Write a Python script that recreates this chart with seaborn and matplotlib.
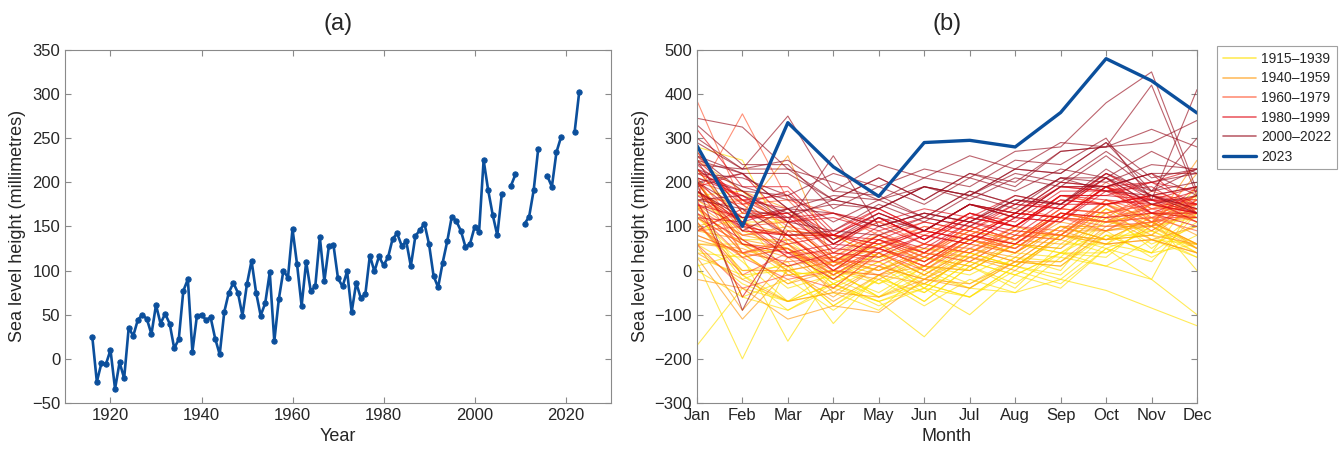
import numpy as np
import pandas as pd
import matplotlib
matplotlib.use('Agg')
import matplotlib.pyplot as plt
import seaborn as sns
from matplotlib.lines import Line2D

# (a) annual mean sea level, 1916-2023 (nan = no data)
annual_years = list(range(1916, 2024))
annual_mm = [25, -26, -5, -6, 10, -34, -4, -22, 35, 26,
             44, 50, 45, 28, 61, 40, 51, 40, 12, 22,
             77, 90, 8, 49, 50, 44, 47, 23, 5, 53,
             75, 86, 75, 49, 85, 111, 75, 49, 63, 98,
             20, 68, 100, 92, 147, 107, 60, 110, 77, 82,
             138, 88, 128, 129, 91, 82, 99, 53, 86, 69,
             73, 117, 99, 116, 106, 115, 136, 142, 128, 133,
             105, 139, 146, 153, 130, 94, 81, 109, 133, 161,
             156, 145, 127, 130, 149, 144, 225, 191, 163, 140,
             187, np.nan, 196, 209, np.nan, 153, 161, 191, 238, np.nan,
             207, 195, 234, 251, np.nan, np.nan, 257, 302]

# (b) monthly values per year, grouped by period
months = ['Jan', 'Feb', 'Mar', 'Apr', 'May', 'Jun', 'Jul', 'Aug', 'Sep', 'Oct', 'Nov', 'Dec']

years_1915_1939 = list(range(1916, 1940))
monthly_1915_1939 = [
    [80, 40, -40, -10, -50, 10, -30, 30, 20, 80, 40, 110],
    [-170, -40, -70, -30, -80, -40, -60, 0, -30, 50, 20, 130],
    [20, -200, 10, -80, -20, -50, 20, -10, 40, 30, 110, 60],
    [40, 30, -160, 0, -60, -30, -60, 10, -10, 80, 40, 60],
    [110, -20, 20, -120, -10, -70, 10, -30, 40, 40, 100, 40],
    [150, -10, -70, -30, -70, -150, -40, -50, -20, -45, -85, -125],
    [150, -60, -20, -90, -20, -80, -20, -50, 30, 10, 70, 30],
    [0, -60, -90, -30, -70, -40, -100, -10, -40, 50, -20, 170],
    [280, 250, 60, -40, 10, -50, 20, -10, 40, 10, -20, -100],
    [60, 60, -10, 0, -60, -10, -40, 30, 0, 120, 60, 100],
    [120, 30, 50, -30, 20, -40, 40, 10, 80, 60, 110, 50],
    [200, 60, 50, -30, 20, -30, 30, 10, 70, 40, 100, 60],
    [90, 120, -10, 0, -10, 30, 10, 60, 40, 90, 30, 80],
    [30, -10, 0, -20, -60, 10, -10, 40, 30, 130, 50, 130],
    [180, 70, 70, -10, 40, -10, 60, 40, 100, 70, 120, 0],
    [10, 40, -30, 20, -30, 10, 0, 60, 50, 140, 100, 120],
    [160, 90, 50, -10, 40, -40, 40, 10, 80, 50, 90, 40],
    [100, 20, -70, 0, -30, 30, 0, 60, 40, 110, 90, 140],
    [50, -30, -70, -50, -90, 0, -40, 20, 10, 80, 80, 190],
    [60, 0, 10, -80, -10, -70, 10, -40, 60, 60, 130, 120],
    [230, 110, 110, 20, 60, 0, 70, 40, 100, 70, 80, 30],
    [170, 180, 90, 80, 30, 50, 40, 100, 70, 140, 70, 60],
    [130, -10, -90, -40, -70, -30, -60, 10, -20, 60, 40, 180],
    [150, 40, 50, -20, 30, -20, 40, 10, 80, 70, 90, 50],
]

years_1940_1959 = list(range(1940, 1960))
monthly_1940_1959 = [
    [120, 60, 0, 20, -10, 10, 0, 60, 50, 120, 70, 100],
    [60, -90, 30, -40, 40, -10, 50, 30, 100, 100, 150, 110],
    [200, 70, 50, -50, 10, -20, 30, 10, 80, 60, 70, 40],
    [30, -110, 0, -70, -10, -30, 30, 0, 80, 70, 120, 170],
    [-20, -40, -110, -80, -95, -20, -30, 20, 10, 90, 100, 250],
    [150, 80, 60, -20, 40, -10, 50, 20, 90, 60, 70, 40],
    [230, 100, 80, 10, 60, 0, 70, 40, 100, 70, 80, 60],
    [100, 130, 260, 20, 50, 10, 70, 50, 110, 90, 110, 60],
    [180, 110, 80, 0, 50, 10, 70, 40, 100, 90, 110, 60],
    [70, 40, -30, 0, -20, 30, 10, 70, 60, 130, 80, 150],
    [210, 40, 60, 10, 60, 20, 80, 50, 120, 110, 130, 130],
    [250, 180, 140, 40, 80, 30, 90, 70, 130, 110, 130, 80],
    [140, 60, 30, 30, 0, 50, 30, 90, 80, 160, 110, 120],
    [110, 0, 0, -60, 10, -20, 50, 20, 90, 90, 150, 140],
    [90, 70, 0, 20, 0, 40, 20, 80, 70, 140, 100, 130],
    [270, 130, 110, 20, 70, 20, 80, 60, 130, 110, 100, 50],
    [40, -20, -70, -50, -60, -20, -40, 20, 20, 100, 100, 220],
    [60, 50, 10, 30, 0, 40, 30, 80, 80, 150, 110, 170],
    [200, 80, 100, 30, 80, 40, 90, 70, 130, 110, 150, 120],
    [160, 160, 80, 80, 30, 60, 40, 90, 80, 150, 120, 50],
]

years_1960_1979 = list(range(1960, 1980))
monthly_1960_1979 = [
    [170, 355, 160, 130, 80, 110, 90, 140, 120, 190, 110, 190],
    [230, 100, 110, 30, 90, 40, 100, 70, 130, 120, 140, 110],
    [100, 30, -20, 0, -10, 40, 20, 80, 70, 150, 100, 160],
    [385, 150, 80, 10, 70, 20, 80, 60, 120, 100, 110, 130],
    [150, 40, 60, -10, 50, 10, 80, 50, 120, 90, 140, 140],
    [90, 100, 30, 20, 20, 60, 50, 100, 80, 160, 110, 140],
    [260, 150, 160, 60, 110, 80, 130, 100, 170, 150, 170, 120],
    [120, 60, 50, 0, 70, 30, 100, 70, 140, 130, 150, 130],
    [200, 170, 100, 80, 60, 100, 80, 130, 120, 190, 140, 170],
    [180, 120, 130, 70, 110, 60, 120, 100, 170, 150, 170, 160],
    [160, 110, 40, 40, 20, 60, 40, 100, 90, 160, 130, 150],
    [110, -10, 40, 10, 70, 30, 90, 60, 130, 120, 180, 150],
    [140, 80, 90, 20, 80, 40, 100, 70, 140, 130, 150, 150],
    [60, -40, -10, -40, 40, 0, 60, 40, 120, 110, 170, 130],
    [210, 90, 80, 0, 50, 10, 70, 50, 120, 110, 120, 120],
    [80, 40, 20, 30, 10, 60, 40, 90, 80, 150, 90, 160],
    [130, 30, 50, -10, 50, 10, 80, 60, 130, 110, 120, 90],
    [170, 150, 70, 80, 50, 90, 70, 130, 120, 200, 140, 150],
    [190, 40, 70, 20, 80, 40, 100, 70, 140, 130, 160, 140],
    [140, 160, 80, 80, 50, 100, 80, 130, 120, 190, 120, 150],
]

years_1980_1999 = list(range(1980, 2000))
monthly_1980_1999 = [
    [180, 90, 80, 0, 70, 40, 110, 80, 150, 150, 170, 140],
    [150, 100, 80, 80, 60, 90, 70, 130, 120, 190, 130, 130],
    [230, 160, 140, 60, 120, 70, 120, 100, 160, 150, 170, 150],
    [210, 170, 110, 120, 90, 120, 100, 150, 140, 210, 150, 130],
    [160, -60, 90, 80, 130, 90, 150, 120, 190, 180, 200, 230],
    [200, 120, 120, 50, 120, 70, 130, 110, 180, 180, 190, 130],
    [120, 110, 30, 50, 40, 80, 60, 120, 110, 190, 160, 190],
    [250, 160, 170, 70, 120, 70, 130, 100, 160, 150, 160, 130],
    [190, 220, 110, 130, 100, 130, 110, 160, 140, 210, 130, 120],
    [230, 150, 180, 80, 140, 90, 150, 130, 200, 190, 200, 150],
    [270, 130, 130, 40, 100, 60, 120, 100, 170, 160, 150, 130],
    [130, 70, 10, 40, 30, 80, 60, 120, 110, 180, 130, 170],
    [200, 60, 40, -20, 50, 20, 80, 60, 130, 120, 130, 100],
    [90, 140, 40, 60, 50, 90, 70, 130, 120, 190, 150, 180],
    [150, 120, 130, 60, 120, 70, 130, 100, 170, 170, 200, 180],
    [320, 190, 190, 90, 140, 90, 150, 120, 190, 180, 160, 110],
    [220, 180, 120, 130, 110, 140, 120, 170, 150, 220, 160, 150],
    [180, 110, 140, 80, 130, 90, 150, 130, 190, 190, 220, 130],
    [240, 160, 110, 20, 80, 50, 110, 90, 170, 170, 160, 160],
    [170, 110, 60, 80, 70, 110, 90, 150, 140, 220, 170, 190],
]

years_2000_2022 = [2000, 2001, 2002, 2003, 2004, 2005, 2006, 2008, 2009,
                   2011, 2012, 2013, 2014, 2016, 2017, 2018, 2019, 2022]
monthly_2000_2022 = [
    [250, 90, 140, 60, 120, 90, 150, 120, 190, 190, 220, 170],
    [200, -90, 110, 90, 150, 110, 170, 140, 210, 200, 240, 230],
    [345, 325, 230, 200, 160, 190, 160, 210, 190, 260, 180, 230],
    [240, 230, 350, 180, 170, 120, 180, 150, 210, 180, 170, 140],
    [210, 180, 110, 260, 100, 130, 110, 160, 150, 230, 170, 130],
    [160, 140, 80, 90, 80, 120, 100, 160, 150, 220, 180, 200],
    [260, 180, 170, 110, 160, 120, 180, 150, 210, 210, 270, 220],
    [230, 190, 160, 160, 140, 190, 170, 220, 200, 270, 200, 220],
    [200, 220, 140, 170, 160, 210, 190, 250, 240, 300, 160, 410],
    [180, 120, 140, 70, 130, 90, 150, 130, 200, 190, 220, 220],
    [250, 220, 140, 130, 100, 130, 110, 170, 150, 210, 150, 170],
    [160, 170, 130, 150, 140, 190, 170, 230, 220, 290, 210, 230],
    [300, 230, 230, 160, 210, 160, 220, 190, 270, 280, 320, 280],
    [330, 240, 240, 140, 190, 150, 210, 180, 230, 210, 170, 190],
    [200, 140, 120, 160, 140, 190, 170, 230, 220, 290, 180, 300],
    [260, 220, 220, 160, 210, 160, 220, 200, 270, 280, 420, 170],
    [220, 210, 170, 220, 190, 230, 210, 270, 280, 380, 450, 180],
    [290, 230, 250, 180, 240, 210, 260, 230, 290, 280, 290, 340],
]

monthly_2023 = [283, 100, 335, 235, 168, 290, 295, 280, 358, 480, 430, 357]

period_labels = ['1915\u20131939', '1940\u20131959', '1960\u20131979', '1980\u20131999', '2000\u20132022']
period_colors = ['#FFE000', '#FF9A10', '#FF5530', '#E00A14', '#991020']
blue = '#0B4F9C'

# long tables for seaborn
df_a = pd.DataFrame({'Year': annual_years, 'mm': annual_mm})
df_a['seg'] = df_a['mm'].isna().cumsum()
df_a = df_a.dropna()

groups = [(years_1915_1939, monthly_1915_1939), (years_1940_1959, monthly_1940_1959),
          (years_1960_1979, monthly_1960_1979), (years_1980_1999, monthly_1980_1999),
          (years_2000_2022, monthly_2000_2022)]
rows = []
for label, (yrs, block) in zip(period_labels, groups):
    for y, vals in zip(yrs, block):
        for m, v in enumerate(vals):
            rows.append({'year': y, 'month': m + 1, 'mm': v, 'period': label})
df_b = pd.DataFrame(rows)
df_23 = pd.DataFrame({'month': range(1, 13), 'mm': monthly_2023})

sns.set_style('ticks')
plt.rcParams['font.family'] = ['Liberation Sans', 'DejaVu Sans']
plt.rcParams['axes.edgecolor'] = '#8a8a8a'
plt.rcParams['xtick.color'] = '#8a8a8a'
plt.rcParams['ytick.color'] = '#8a8a8a'
plt.rcParams['xtick.labelcolor'] = '#262626'
plt.rcParams['ytick.labelcolor'] = '#262626'
plt.rcParams['axes.labelcolor'] = '#262626'

fig = plt.figure(figsize=(13.4, 4.49), dpi=100)
ax1 = fig.add_axes([0.0485, 0.1025, 0.4075, 0.7865])
ax2 = fig.add_axes([0.5201, 0.1025, 0.3732, 0.7865])

# panel (a)
sns.lineplot(data=df_a, x='Year', y='mm', units='seg', estimator=None, color=blue,
             lw=1.9, marker='o', markersize=3.8, markeredgecolor=blue, ax=ax1)
ax1.set_xlim(1910, 2030)
ax1.set_ylim(-50, 350)
ax1.set_xticks([1920, 1940, 1960, 1980, 2000, 2020])
ax1.set_yticks(range(-50, 351, 50))
ax1.set_yticklabels(['\u221250'] + [str(v) for v in range(0, 351, 50)])
ax1.set_xlabel('Year', fontsize=13)
ax1.set_ylabel('Sea level height (millimetres)', fontsize=13)
ax1.set_title('(a)', fontsize=17, pad=14)

# panel (b)
sns.lineplot(data=df_b, x='month', y='mm', hue='period', units='year', estimator=None,
             palette=dict(zip(period_labels, period_colors)), lw=0.8, alpha=0.65,
             legend=False, sort=False, ax=ax2)
sns.lineplot(data=df_23, x='month', y='mm', color=blue, lw=2.4, ax=ax2)
ax2.set_xlim(1, 12)
ax2.set_ylim(-300, 500)
ax2.set_xticks(range(1, 13))
ax2.set_xticklabels(months)
ax2.set_yticks(range(-300, 501, 100))
ax2.set_yticklabels([str(v).replace('-', '\u2212') for v in range(-300, 501, 100)])
ax2.set_xlabel('Month', fontsize=13)
ax2.set_ylabel('Sea level height (millimetres)', fontsize=13)
ax2.set_title('(b)', fontsize=17, pad=14)

for ax in (ax1, ax2):
    ax.tick_params(direction='in', top=True, right=True, length=4, width=0.8, labelsize=12)
    for s in ax.spines.values():
        s.set_linewidth(0.8)

handles = [Line2D([], [], color=c, lw=1.2, alpha=0.65) for c in period_colors]
handles.append(Line2D([], [], color=blue, lw=2.4))
leg = ax2.legend(handles, period_labels + ['2023'], loc='upper left',
                 bbox_to_anchor=(1.04, 1.01), borderaxespad=0, fancybox=False,
                 edgecolor='#8a8a8a', fontsize=10, handlelength=2.4,
                 handletextpad=0.4, labelspacing=0.4, borderpad=0.4)
leg.get_frame().set_linewidth(0.8)

fig.savefig('out.png', dpi=100)
